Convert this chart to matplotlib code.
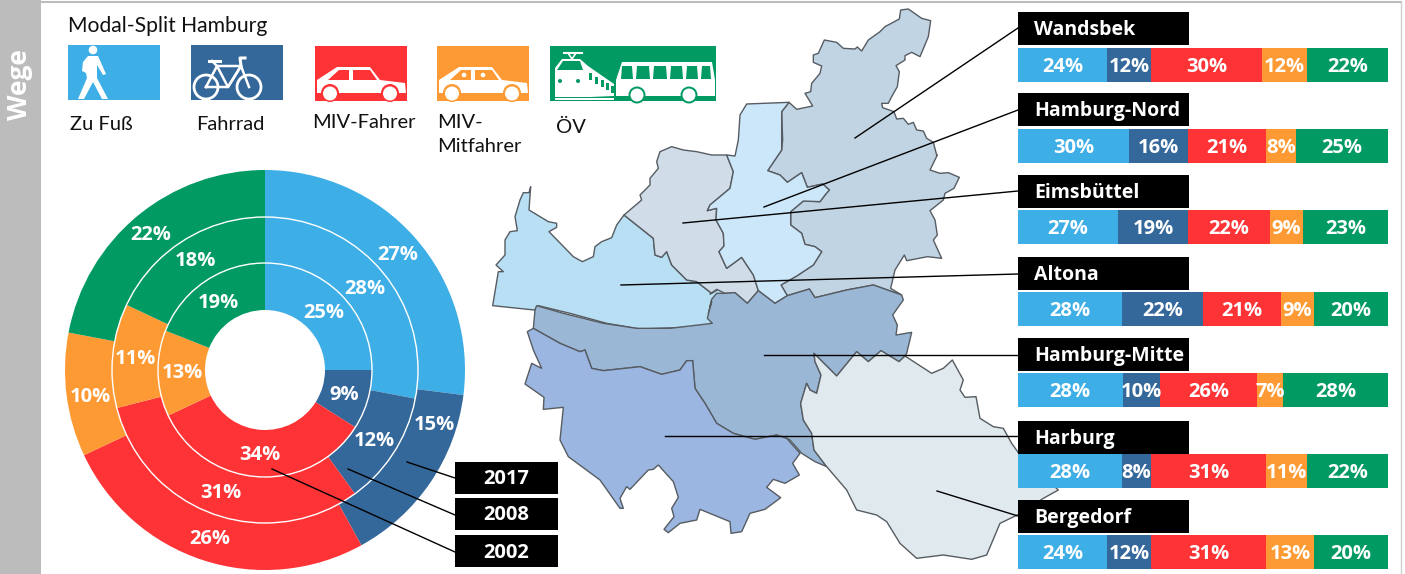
import matplotlib
matplotlib.use("Agg")
import matplotlib.pyplot as plt
from matplotlib.patches import Polygon, Rectangle, Circle

W, H = 1405, 574
COL = ['#3eaee6', '#34679a', '#fe3336', '#fe9a33', '#019a63']
MODES = ['Zu Fuß', 'Fahrrad', 'MIV-Fahrer', 'MIV-\nMitfahrer', 'ÖV']

y2017 = [27, 15, 26, 10, 22]
y2008 = [28, 12, 31, 11, 18]
y2002 = [25, 9, 34, 13, 19]

districts = ['Wandsbek', 'Hamburg-Nord', 'Eimsbüttel', 'Altona', 'Hamburg-Mitte', 'Harburg', 'Bergedorf']
zu_fuss = [24, 30, 27, 28, 28, 28, 24]
fahrrad = [12, 16, 19, 22, 10, 8, 12]
miv_fahrer = [30, 21, 22, 21, 26, 31, 31]
miv_mitfahrer = [12, 8, 9, 9, 7, 11, 13]
oev = [22, 25, 23, 20, 28, 22, 20]

def zc(x0, y0, pts):
    return [(x0 + x/3, y0 + y/3) for x, y in pts]

wandsbek = zc(740,5,[(147,292),(170,313),(218,303),(195,265),(212,260),(215,235),(240,205),(245,183),(220,172),(220,150),(235,145),(253,105),(290,112),(310,130),(345,132),(352,126),(365,138),(385,105),(420,80),(435,65),(478,42),(482,15),(505,12),(545,40),(572,47),(565,95),(540,155),(515,142),(495,152),(495,165),(468,182),(478,200),(472,245),(455,275),(445,295),(425,295),(428,308),(462,320),(470,342),(490,340),(505,358),(520,352),(530,375),(550,378),(560,400),(580,412),(590,450)]) \
    + zc(700,140,[(712,45),(690,90),(720,100),(745,98),(778,112),(762,145),(735,160),(730,180),(690,212),(705,240),(712,285),(700,300),(725,355),(683,350),(620,362),(613,345),(585,390),(572,445),(605,465),(520,435),(440,450),(345,473),(328,447),(262,467),(243,435),(290,408),(340,375),(365,335),(345,320),(315,313),(305,280),(272,255),(272,215),(310,183),(360,185),(375,165),(388,150),(368,132),(322,142),(305,98),(262,127),(240,105),(203,92),(245,30),(248,0)]) \
    + zc(740,5,[(125,320)])
nord = zc(740,5,[(20,297),(147,292),(125,320),(125,405)]) \
    + zc(700,140,[(245,30),(203,92),(240,105),(262,127),(305,98),(322,142),(368,132),(388,150),(375,165),(360,185),(310,183),(272,215),(272,255),(305,280),(315,313),(345,320),(365,335),(340,375),(290,408),(243,435),(262,467),(225,490),(175,452),(160,405),(125,352),(80,385),(57,335),(72,318),(70,280),(48,240),(50,205),(22,212),(30,195),(90,145),(100,95),(80,45),(105,48),(115,0)]) \
    + zc(740,5,[(0,330)])
eims = zc(490,140,[(510,35),(545,20),(580,30),(620,35),(665,45)]) \
    + zc(700,140,[(80,45),(100,95),(90,145),(30,195),(22,212),(50,205),(48,240),(70,280),(72,318),(57,335),(80,385),(125,352),(160,405),(175,452),(142,490),(105,458),(75,460),(50,448),(30,462)]) \
    + zc(490,140,[(665,460),(620,425),(590,420),(545,375),(530,335),(515,352),(495,345),(490,295),(402,225),(455,180),(450,165),(480,135),(480,115),(505,85),(500,65)])
altona = zc(490,140,[(122,140),(117,210),(175,245),(200,250),(200,262),(177,275),(250,350),(277,365),(310,350),(315,320),(335,305),(365,293),(380,255),(402,225),(490,295),(495,345),(515,352),(530,335),(545,375),(590,420),(620,425),(665,460),(690,445),(710,460),(665,480),(655,520),(668,548),(640,560),(450,567),(350,550),(240,520),(145,497),(133,510),(8,497),(25,395),(40,395),(18,375),(45,345),(45,300),(60,275),(82,272),(75,230),(90,180),(100,158),(117,158)])
mitte = zc(520,300,[(50,17),(130,40),(250,70),(350,85),(450,85),(577,70),(562,55),(575,5)]) \
    + zc(700,140,[(30,500),(35,478),(50,460),(75,460),(105,458),(142,490),(175,452),(225,490),(262,467),(328,447),(345,473),(440,450),(520,435),(605,465)]) \
    + zc(790,300,[(340,0),(308,45),(322,75),(318,105),(365,97),(350,160),(345,168),(327,185),(273,152),(235,185),(200,155),(140,228),(72,160),(75,185),(93,225),(80,280),(60,270),(50,250),(32,310),(40,360),(65,400),(72,450),(110,500),(75,485),(35,460),(0,420)]) \
    + zc(520,300,[(800,415),(770,405),(705,418),(640,400),(590,370),(555,310),(525,265),(518,182),(500,182),(480,210),(425,223),(360,200),(250,212),(215,205),(195,150),(180,155),(120,130),(40,85),(45,30)])
harburg = zc(520,300,[(40,85),(120,130),(180,155),(195,150),(215,205),(250,212),(360,200),(425,223),(480,210),(500,182),(518,182),(525,265),(555,310),(590,370),(640,400),(705,418),(770,405),(800,415),(840,460),(818,490),(838,525),(795,550),(760,538),(740,562),(782,593),(735,628),(690,640),(665,695),(633,700),(630,665),(540,628),(530,660),(480,670),(445,698),(432,688),(462,650),(455,625),(475,592),(460,545),(415,495),(400,508),(385,510),(330,568),(320,560),(300,595),(310,625),(300,625),(240,540),(145,470),(120,420),(130,322),(70,328),(72,292),(15,252),(35,190),(65,205),(40,150),(22,95)])
bergedorf = zc(790,300,[(72,160),(140,228),(200,155),(235,185),(273,152),(327,185),(345,168),(425,220),(460,205),(487,180),(520,240),(510,270),(525,292),(558,290),(570,355),(610,380),(640,385),(665,430),(690,465),(805,570),(760,595),(682,645),(630,670),(590,765),(545,778),(460,765),(380,775),(330,730),(290,665),(260,645),(200,630),(170,570),(110,500),(72,450),(65,400),(40,360),(32,310),(50,250),(60,270),(80,280),(93,225),(75,185)])
map_fill = ['#c0d4e4', '#cde7fa', '#d0dde8', '#b8dff3', '#9ab8d6', '#9bb6e0', '#dfe9ee']

leaders = [((855,138),(1018,28)), ((764,207),(1018,110)), ((683,223),(1018,191)), ((621,285),(1018,274)),
           ((764,355),(1018,355)), ((665,436),(1018,436)), ((937,491),(1018,516))]
ring_leaders = [((407,462),(455,478)), ((348,469),(455,515)), ((272,469),(455,552))]
label_tops = [12, 93, 175, 257, 338, 421, 500]
bar_tops = [48, 129, 210, 292, 373, 454, 535]
year_labels = ['2017', '2008', '2002']
year_tops = [462, 498, 535]
# hand placed value labels of the rings, as in the source graphic
ring_label_xy = [[(398,254),(434,423),(210,538),(90,395),(151,234)],
                 [(365,287),(374,440),(221,492),(135,358),(195,260)],
                 [(324,312),(344,393),(260,453),(182,372),(218,301)]]

SANS = ['Lato', 'DejaVu Sans']
BOLD = dict(family=['Open Sans', 'DejaVu Sans'], fontweight='bold', color='white')

fig = plt.figure(figsize=(W/100, H/100), dpi=100, facecolor='white')
ax = fig.add_axes([0, 0, 1, 1])
ax.set_xlim(0, W); ax.set_ylim(H, 0); ax.axis('off')

# frame
ax.add_patch(Rectangle((0, 0), 41, H, fc='#bcbcbc', ec='none'))
ax.plot([41, 1401], [2, 2], color='#bcbcbc', lw=1.5)
ax.plot([1400.5, 1400.5], [2, H], color='#cfcfcf', lw=1)
ax.text(19.5, 85, 'Wege', rotation=90, ha='center', va='center', fontsize=19, **BOLD)
ax.text(68, 26, 'Modal-Split Hamburg', fontsize=15.2, family=SANS, va='center', color='#111')

# legend tiles and pictograms
tiles = [(68,45,92,55), (191,45,92,55), (315,46,92,55), (437,46,92,55), (550,46,166,55)]
for (x, y, w, h), c in zip(tiles, COL):
    ax.add_patch(Rectangle((x, y), w, h, fc=c, ec='none'))
leg_pos = [(70,125), (196,125), (312,123), (437,134.5), (556,127)]
for (x, y), t in zip(leg_pos, MODES):
    ax.text(x, y, t, fontsize=14.5, family=SANS, va='center', color='#111', linespacing=1.5)

# pedestrian
ax.add_patch(Circle((93, 50), 4.3, fc='white', ec='none'))
ax.add_patch(Polygon([(88,56),(98,56),(106,74),(103,75),(97,65),(97,78),(108,99),(102,99),(93,82),(84,99),(78,99),(87,78),(86,73),(82,71),(83,62)], fc='white', ec='none'))
# bicycle
for cx in (206, 249):
    ax.add_patch(Circle((cx, 87), 12, fc='none', ec='white', lw=2))
ax.plot([206,217,241,228,206], [87,66,66,87,87], color='white', lw=1.8)
ax.plot([212,217,228,241,249], [61,66,87,66,87], color='white', lw=1.8)
ax.plot([209,220], [61,61], color='white', lw=2.2)
ax.plot([241,240,245], [66,58,58], color='white', lw=2.2)
# cars
def car(x0, c, win):
    ax.add_patch(Polygon([(x0+2,93),(x0+2,80),(x0+22,67),(x0+55,67),(x0+65,80),(x0+90,83),(x0+91,93)], fc='white', ec='none'))
    ax.add_patch(Polygon([(x0+13,80),(x0+24,70),(x0+34,70),(x0+34,80)], fc=c, ec='none'))
    ax.add_patch(Polygon([(x0+38,70),(x0+55,70),(x0+62,80),(x0+38,80)], fc=c, ec='none'))
    for dx in (15, 75):
        ax.add_patch(Circle((x0+dx, 93), 9, fc=c, ec='none'))
        ax.add_patch(Circle((x0+dx, 93.5), 7, fc='white', ec='none'))
    for dx in win:
        ax.add_patch(Circle((x0+dx, 75), 2.3, fc='white', ec='none'))
car(315, COL[2], [])
car(437, COL[3], [27, 46])
# train and bus
ax.add_patch(Polygon([(555,97),(555,68),(562,59),(580,59),(588,66),(614,84),(614,96),(590,97)], fc='white', ec='none'))
ax.add_patch(Polygon([(557,70),(563,61),(580,61),(583,70)], fc=COL[4], ec='none'))
ax.plot([564,582], [53,53], color='white', lw=1.5)
ax.plot([568,572,576], [53,59,53], color='white', lw=1.2)
for dx in (0, 6, 12, 17, 22):
    ax.add_patch(Rectangle((589+dx, 73+dx*0.6), 3, 7, fc=COL[4], ec='none'))
ax.add_patch(Circle((560, 81), 2, fc=COL[4], ec='none'))
ax.add_patch(Circle((578, 81), 2, fc=COL[4], ec='none'))
ax.add_patch(Rectangle((555, 98), 59, 2.2, fc='white', ec='none'))
ax.add_patch(Polygon([(616,96),(616,80),(622,62),(712,62),(715,80),(715,96)], fc='white', ec='none'))
for x0, x1 in [(621,633),(636,650),(653,667),(670,683),(686,698),(701,711)]:
    ax.add_patch(Polygon([(x0+1,66),(x1-1,66),(x1,79),(x0,79)], fc=COL[4], ec='none'))
for cx in (637, 689):
    ax.add_patch(Circle((cx, 95), 8.5, fc=COL[4], ec='none'))
    ax.add_patch(Circle((cx, 95), 6.5, fc='white', ec='none'))

# map
shapes = [wandsbek, nord, eims, altona, mitte, harburg, bergedorf]
for i in [3, 2, 0, 1, 4, 5, 6]:
    ax.add_patch(Polygon(shapes[i], closed=True, fc=map_fill[i], ec='#565c62', lw=1.0, joinstyle='round'))
for (a, b) in leaders:
    ax.plot([a[0], b[0]], [a[1], b[1]], color='black', lw=1, zorder=6)

# donut
R = 200.0
pax = fig.add_axes([65/W, 1-570/H, 400/W, 400/H], zorder=3)
pax.patch.set_alpha(0)
for vals, ro, ri in [(y2017, 200, 153), (y2008, 153, 107), (y2002, 107, 60)]:
    pax.pie(vals, colors=COL, radius=ro/R, startangle=90, counterclock=False,
            wedgeprops=dict(width=(ro-ri)/R, edgecolor='none'))
for r in (153, 107):
    pax.add_patch(Circle((0, 0), r/R, fc='none', ec='white', lw=1))
pax.set_xlim(-1, 1); pax.set_ylim(-1, 1)

# overlay in pixel units: ring values, leaders, tags and bars on top
lax = fig.add_axes([0, 0, 1, 1], zorder=4)
lax.patch.set_alpha(0)
lax.set_xlim(0, W); lax.set_ylim(H, 0); lax.axis('off')
for vals, xy in zip([y2017, y2008, y2002], ring_label_xy):
    for v, (x, y) in zip(vals, xy):
        lax.text(x, y + 1.5, f'{v}%', ha='center', va='center', fontsize=14.5, **BOLD)
for (a, b) in ring_leaders:
    lax.plot([a[0], b[0]], [a[1], b[1]], color='black', lw=1)
for name, top in zip(districts, label_tops):
    lax.add_patch(Rectangle((1018, top), 171, 33, fc='black', ec='none'))
    lax.text(1034, top+18, name, fontsize=14, va='center', **BOLD)
for lab, top in zip(year_labels, year_tops):
    lax.add_patch(Rectangle((455, top), 103, 32, fc='black', ec='none'))
    lax.text(483, top+17.5, lab, fontsize=14.5, va='center', **BOLD)

# stacked bars
series = [zu_fuss, fahrrad, miv_fahrer, miv_mitfahrer, oev]
for k, top in enumerate(bar_tops):
    bax = fig.add_axes([1018/W, 1-(top+34)/H, 370/W, 34/H], zorder=5)
    vals = [s[k] for s in series]
    left = 0
    for v, c in zip(vals, COL):
        bax.barh(0, v, left=left, height=1, color=c, edgecolor='none')
        bax.text(left + v/2, -0.05, f'{v}%', ha='center', va='center', fontsize=14.5, **BOLD)
        left += v
    bax.set_xlim(0, sum(vals)); bax.set_ylim(-.5, .5); bax.axis('off')

fig.savefig('out.png', dpi=100, facecolor='white')
